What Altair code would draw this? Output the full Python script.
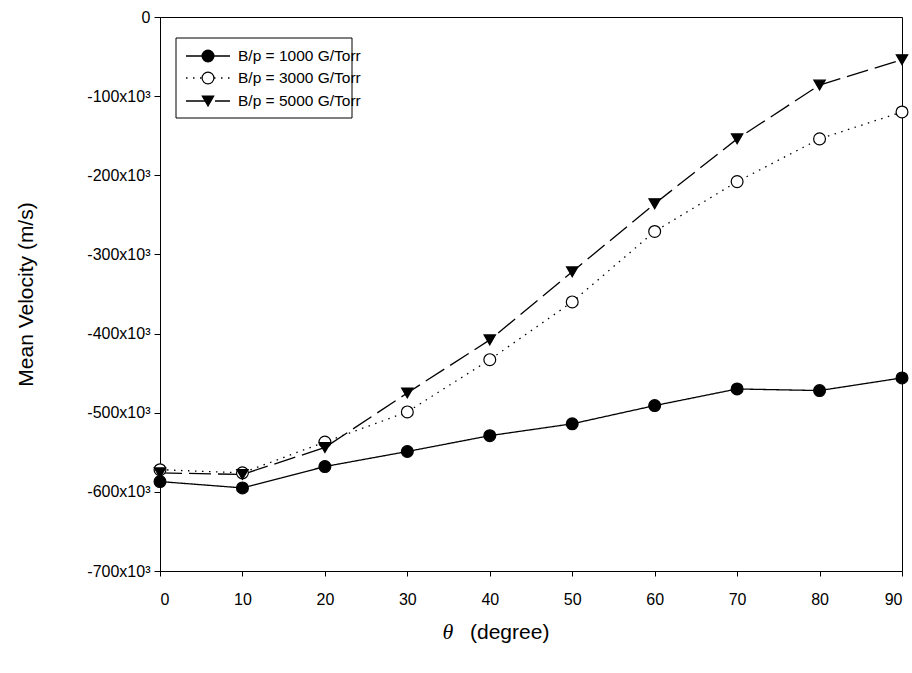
import altair as alt
import pandas as pd

# Mean velocity vs. angle for three B/p ratios
theta = [0, 10, 20, 30, 40, 50, 60, 70, 80, 90]
v_1000 = [-587e3, -595e3, -568e3, -549e3, -529e3, -514e3, -491e3, -470e3, -472e3, -456e3]
v_3000 = [-572e3, -576e3, -537e3, -499e3, -433e3, -360e3, -271e3, -208e3, -154e3, -120e3]
v_5000 = [-576e3, -578e3, -544e3, -475e3, -408e3, -322e3, -236e3, -154e3, -86e3, -54e3]
series_names = ["B/p = 1000 G/Torr", "B/p = 3000 G/Torr", "B/p = 5000 G/Torr"]
y_ticks = [0, -100e3, -200e3, -300e3, -400e3, -500e3, -600e3, -700e3]

FONT = "Liberation Sans"
W, H = 742, 554

frames = []
for name, vals in zip(series_names, [v_1000, v_3000, v_5000]):
    frames.append(pd.DataFrame({"theta": theta, "v": vals, "series": name}))
df = pd.concat(frames, ignore_index=True)

x_enc = alt.X("theta:Q", scale=alt.Scale(domain=[0, 90], nice=False),
              axis=alt.Axis(values=list(range(0, 91, 10)), title=None,
                            labelFont=FONT, labelFontSize=16, labelPadding=15,
                            tickSize=5, grid=False, domainColor="black", tickColor="black",
                            labelColor="black"))
y_enc = alt.Y("v:Q", scale=alt.Scale(domain=[-700e3, 0], nice=False),
              axis=alt.Axis(values=y_ticks, title="Mean Velocity (m/s)",
                            labelExpr="datum.value == 0 ? '0' : '-' + format(-datum.value / 1000, 'd') + 'x10³'",
                            titleFont=FONT, titleFontSize=21, titleFontWeight="normal",
                            titleX=-134, titleY=H / 2, titleBaseline="middle",
                            labelFont=FONT, labelFontSize=16, labelPadding=4,
                            tickSize=6, grid=False, domainColor="black", tickColor="black",
                            labelColor="black", titleColor="black"))

styles = {
    series_names[0]: dict(dash=[1, 0], shape="circle", fill="black"),
    series_names[1]: dict(dash=[1.5, 5.5], shape="circle", fill="white"),
    series_names[2]: dict(dash=[22, 7], shape="triangle-down", fill="black"),
}

layers = []
for name in series_names:
    st = styles[name]
    sub = alt.Chart(df).transform_filter(alt.datum.series == name)
    layers.append(sub.mark_line(color="black", strokeWidth=1.3, strokeDash=st["dash"])
                  .encode(x=x_enc, y=y_enc))
for name in series_names:
    st = styles[name]
    sub = alt.Chart(df).transform_filter(alt.datum.series == name)
    layers.append(sub.mark_point(shape=st["shape"], filled=True, fill=st["fill"], stroke="black",
                                 strokeWidth=1.2, size=140 if st["shape"] == "circle" else 130,
                                 opacity=1)
                  .encode(x=x_enc, y=y_enc))

one = alt.Data(values=[{"k": 1}])

# x-axis title: italic theta followed by the unit
layers.append(alt.Chart(one).mark_text(text="θ", font="Liberation Serif", fontStyle="italic",
                                       fontSize=22, align="center", baseline="middle",
                                       color="black")
              .encode(x=alt.value(288), y=alt.value(615)))
layers.append(alt.Chart(one).mark_text(text="(degree)", font=FONT, fontSize=21, align="left",
                                       baseline="middle", color="black")
              .encode(x=alt.value(310), y=alt.value(616)))

# Legend box and entries
box_x0, box_x1, box_y0, box_y1 = 16, 192, 21, 101
layers.append(alt.Chart(one).mark_rect(fill="white", stroke="black", strokeWidth=1)
              .encode(x=alt.value(box_x0), x2=alt.value(box_x1),
                      y=alt.value(box_y0), y2=alt.value(box_y1)))
row_y = [39, 61, 84]
for name, ry in zip(series_names, row_y):
    st = styles[name]
    layers.append(alt.Chart(one).mark_rule(color="black", strokeWidth=1.3, strokeDash=st["dash"])
                  .encode(x=alt.value(26), x2=alt.value(70), y=alt.value(ry)))
    layers.append(alt.Chart(one).mark_point(shape=st["shape"], filled=True, fill=st["fill"],
                                            stroke="black", strokeWidth=1.2,
                                            size=140 if st["shape"] == "circle" else 130, opacity=1)
                  .encode(x=alt.value(48), y=alt.value(ry)))
    layers.append(alt.Chart(one).mark_text(text=name, font=FONT, fontSize=15.5, align="left",
                                           baseline="middle", color="black")
                  .encode(x=alt.value(78), y=alt.value(ry)))

chart = alt.layer(*layers).properties(
    width=W, height=H,
    autosize=alt.AutoSizeParams(type="none"),
    padding={"left": 160, "top": 17, "right": 10, "bottom": 102},
    background="white",
).configure_view(stroke="black", strokeWidth=1)

chart.save("out.html", embed_options={"renderer": "svg", "actions": False})
